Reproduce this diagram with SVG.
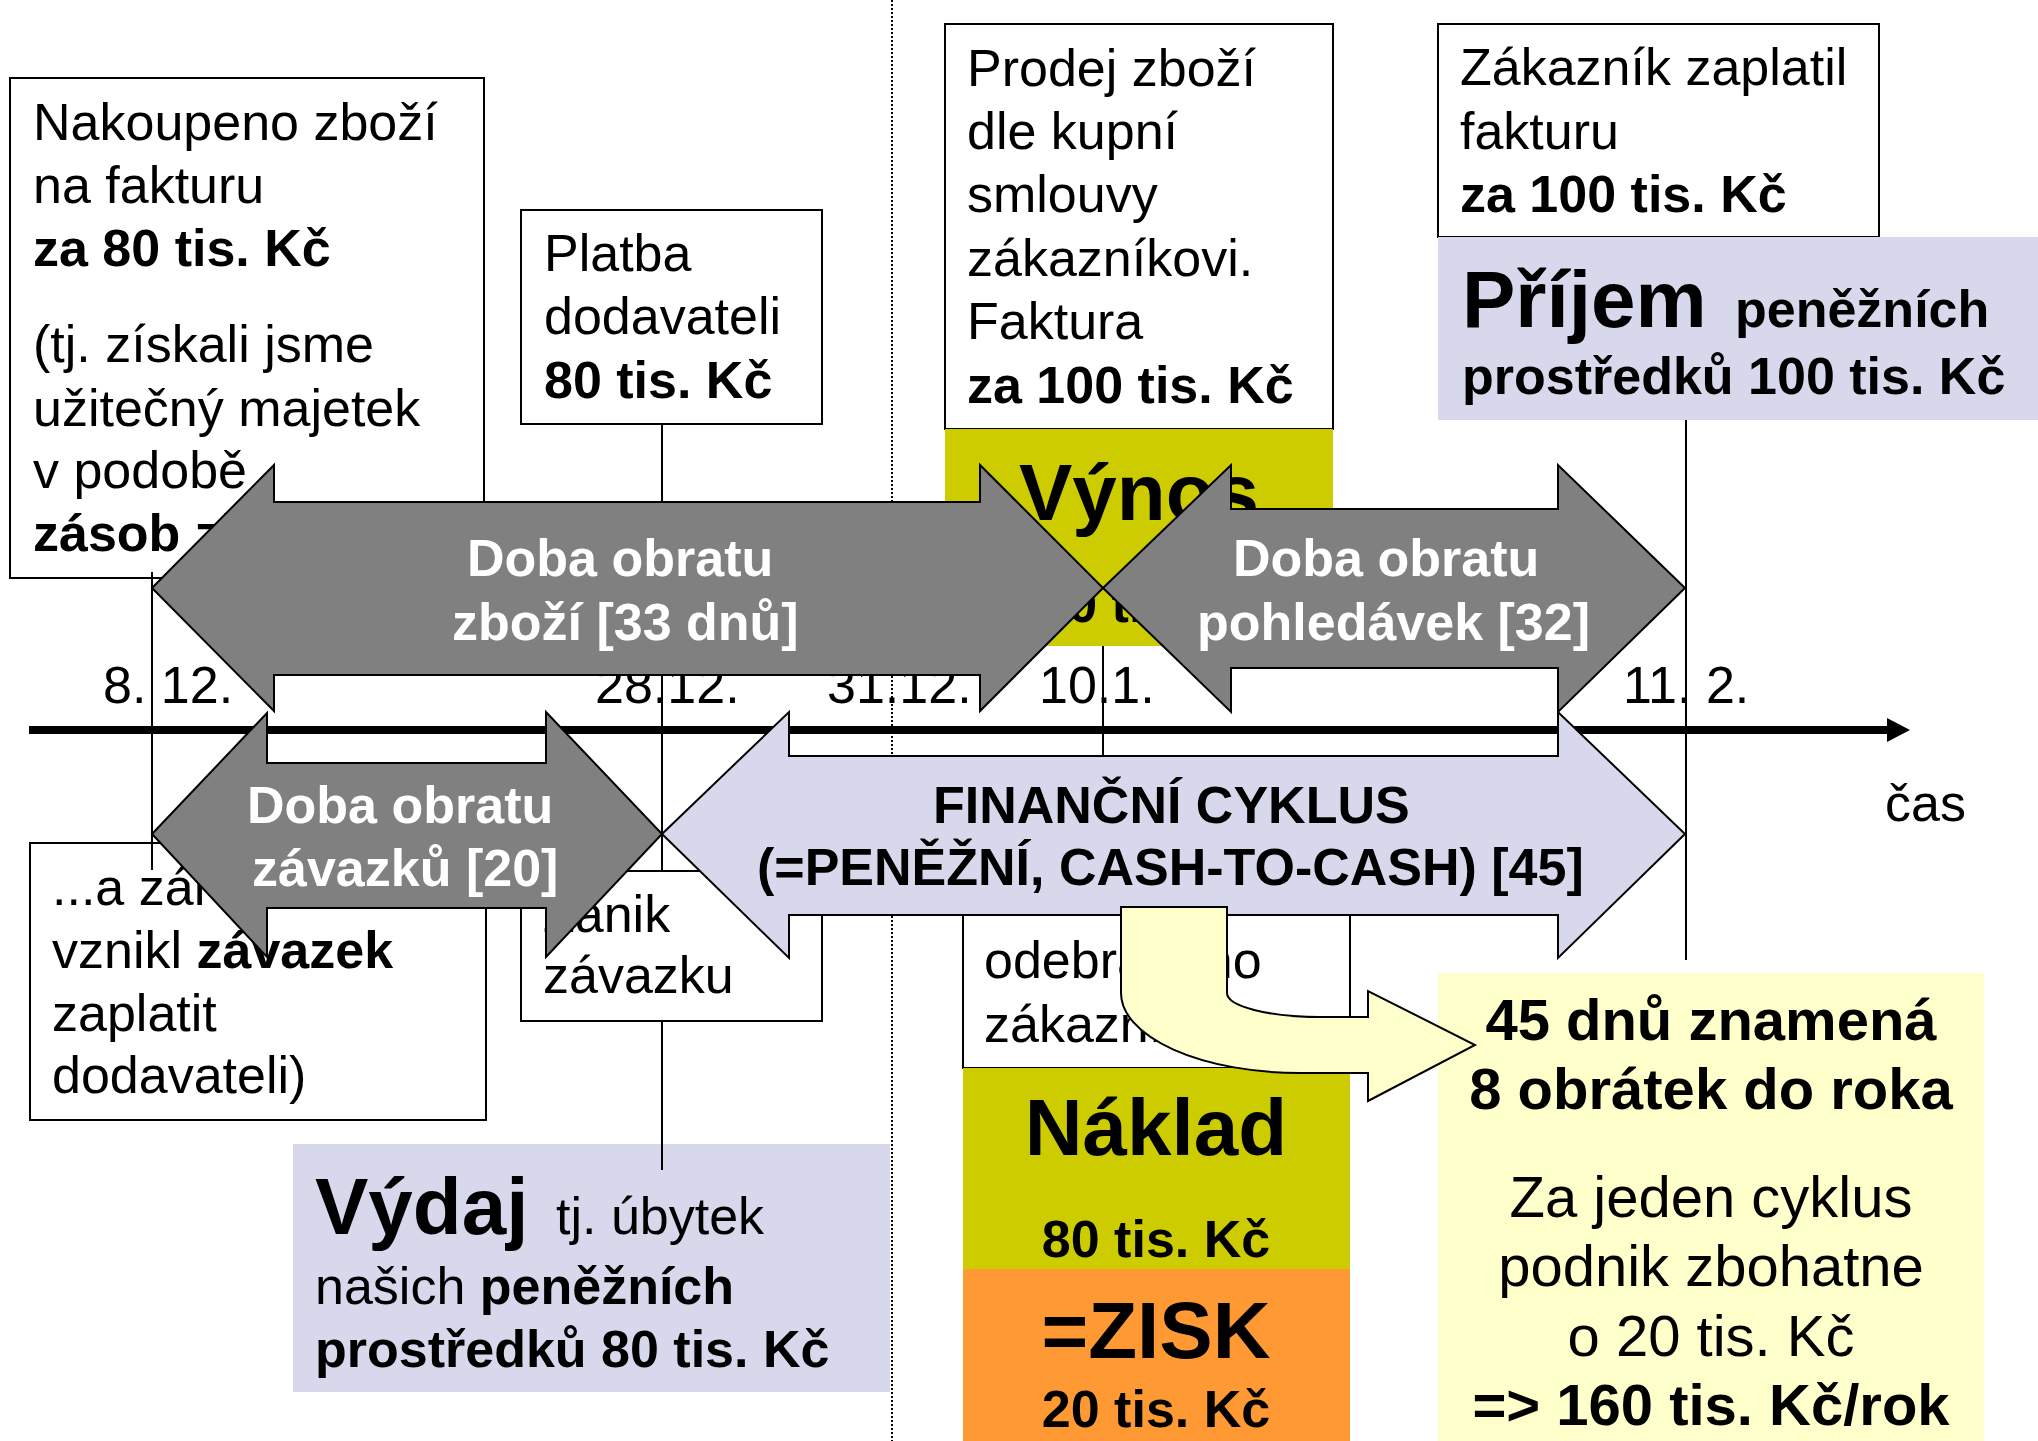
<svg xmlns="http://www.w3.org/2000/svg" width="2038" height="1441" viewBox="0 0 2038 1441">
<defs>
<style>
.box{fill:#fff;stroke:#000;stroke-width:2}
.yg{fill:#CCCC00}
.lav{fill:#D8D8EC}
.org{fill:#FF9933}
.ly{fill:#FFFFCC}
.t{font-family:"Liberation Sans",Arial,sans-serif;font-size:52px;fill:#000}
.b{font-weight:bold}
.big{font-size:80px;font-weight:bold}
.r58{font-size:58px}
.w{fill:#fff}
.c{text-anchor:middle}
.ag{fill:#808080;stroke:#000;stroke-width:2;stroke-linejoin:miter}
.al{fill:#D8D8EC;stroke:#000;stroke-width:2;stroke-linejoin:miter}
.ay{fill:#FFFFCC;stroke:#000;stroke-width:2}
.vl{stroke:#000;stroke-width:2;fill:none}
</style>
<marker id="tl-head" markerUnits="userSpaceOnUse" markerWidth="24" markerHeight="24" refX="0" refY="12" orient="auto">
<path d="M0,0 L23,12 L0,24 Z" fill="#000"/>
</marker>
</defs>
<rect width="2038" height="1441" fill="#fff"/>

<g id="divider">
<line x1="892" y1="0" x2="892" y2="1441" stroke="#000" stroke-width="2" stroke-dasharray="2 2"/>
</g>

<g id="box-nakoupeno">
<rect class="box" x="10" y="78" width="474" height="500"/>
<text class="t" x="33" y="140">Nakoupeno zboží</text>
<text class="t" x="33" y="203">na fakturu</text>
<text class="t b" x="33" y="266">za 80 tis. Kč</text>
<text class="t" x="33" y="362">(tj. získali jsme</text>
<text class="t" x="33" y="426">užitečný majetek</text>
<text class="t" x="33" y="488">v podobě</text>
<text class="t b" x="33" y="551">zásob zboží)</text>
</g>

<g id="box-platba">
<rect class="box" x="521" y="210" width="301" height="214"/>
<text class="t" x="544" y="271">Platba</text>
<text class="t" x="544" y="334">dodavateli</text>
<text class="t b" x="544" y="398">80 tis. Kč</text>
</g>

<g id="box-prodej">
<rect class="box" x="945" y="24" width="388" height="405"/>
<text class="t" x="967" y="86">Prodej zboží</text>
<text class="t" x="967" y="149">dle kupní</text>
<text class="t" x="967" y="212">smlouvy</text>
<text class="t" x="967" y="276">zákazníkovi.</text>
<text class="t" x="967" y="339">Faktura</text>
<text class="t b" x="967" y="403">za 100 tis. Kč</text>
</g>

<g id="box-vynos">
<rect class="yg" x="945" y="429" width="388" height="217"/>
<text class="t big c" x="1139" y="520">Výnos</text>
<text class="t b c" x="1139" y="622">100 tis. Kč</text>
</g>

<g id="box-zakaznik">
<rect class="box" x="1438" y="24" width="441" height="213"/>
<text class="t" x="1460" y="85">Zákazník zaplatil</text>
<text class="t" x="1460" y="149">fakturu</text>
<text class="t b" x="1460" y="212">za 100 tis. Kč</text>
</g>

<g id="box-prijem">
<rect class="lav" x="1438" y="237" width="600" height="183"/>
<text class="t big" x="1462" y="327">Příjem</text>
<text class="t b" x="1735" y="327">peněžních</text>
<text class="t b" x="1462" y="394">prostředků 100 tis. Kč</text>
</g>

<g id="box-zavazek">
<rect class="box" x="30" y="843" width="456" height="277"/>
<text class="t" x="52" y="905">...a zároveň</text>
<text class="t" x="52" y="968">vznikl <tspan class="b">závazek</tspan></text>
<text class="t" x="52" y="1031">zaplatit</text>
<text class="t" x="52" y="1093">dodavateli)</text>
</g>

<g id="box-zanik">
<rect class="box" x="521" y="871" width="301" height="150"/>
<text class="t" x="543" y="932">Zánik</text>
<text class="t" x="543" y="993">závazku</text>
</g>

<g id="box-vydaj">
<rect class="lav" x="293" y="1144" width="597" height="248"/>
<text class="t big" x="315" y="1234">Výdaj</text>
<text class="t" x="556" y="1234">tj. úbytek</text>
<text class="t" x="315" y="1304">našich <tspan class="b">peněžních</tspan></text>
<text class="t b" x="315" y="1367">prostředků 80 tis. Kč</text>
</g>

<g id="box-odebrano">
<rect class="box" x="963" y="860" width="387" height="208"/>
<text class="t" x="984" y="978">odebraného</text>
<text class="t" x="984" y="1042">zákazníkem</text>
</g>

<g id="box-naklad">
<rect class="yg" x="963" y="1068" width="387" height="201"/>
<text class="t big c" x="1156" y="1155">Náklad</text>
<text class="t b c" x="1156" y="1257">80 tis. Kč</text>
</g>

<g id="box-zisk">
<rect class="org" x="963" y="1269" width="387" height="172"/>
<text class="t big c" x="1156" y="1358">=ZISK</text>
<text class="t b c" x="1156" y="1427">20 tis. Kč</text>
</g>

<g id="box-vysledek">
<rect class="ly" x="1438" y="973" width="546" height="468"/>
<text class="t r58 b c" x="1711" y="1040">45 dnů znamená</text>
<text class="t r58 b c" x="1711" y="1109">8 obrátek do roka</text>
<text class="t r58 c" x="1711" y="1217">Za jeden cyklus</text>
<text class="t r58 c" x="1711" y="1286">podnik zbohatne</text>
<text class="t r58 c" x="1711" y="1356">o 20 tis. Kč</text>
<text class="t r58 b c" x="1711" y="1425">=&gt; 160 tis. Kč/rok</text>
</g>

<g id="connectors">
<line class="vl" x1="152" y1="572" x2="152" y2="870"/>
<line class="vl" x1="662" y1="424" x2="662" y2="871"/>
<line class="vl" x1="662" y1="1021" x2="662" y2="1170"/>
<line class="vl" x1="1103" y1="646" x2="1103" y2="756"/>
<line class="vl" x1="1686" y1="420" x2="1686" y2="960"/>
<line x1="29" y1="730" x2="1887" y2="730" stroke="#000" stroke-width="8" marker-end="url(#tl-head)"/>
</g>

<g id="timeline-labels">
<text class="t" x="103" y="703">8. 12.</text>
<text class="t" x="595" y="703">28.12.</text>
<text class="t" x="827" y="703">31.12.</text>
<text class="t" x="1039" y="703">10.1.</text>
<text class="t" x="1623" y="703">11. 2.</text>
<text class="t" x="1885" y="821">čas</text>
</g>

<g id="arrow-zbozi">
<polygon class="ag" points="152,588 274,465 274,502 980,502 980,465 1103,588 980,711 980,675 274,675 274,711"/>
<text class="t b w" x="467" y="576">Doba obratu</text>
<text class="t b w" x="452" y="640">zboží [33 dnů]</text>
</g>

<g id="arrow-pohledavky">
<polygon class="ag" points="1103,588 1231,465 1231,509 1558,509 1558,465 1685,588 1558,712 1558,668 1231,668 1231,712"/>
<text class="t b w" x="1233" y="576">Doba obratu</text>
<text class="t b w" x="1197" y="640">pohledávek [32]</text>
</g>

<g id="arrow-zavazky">
<polygon class="ag" points="152,834 267,713 267,763 546,763 546,712 662,834 546,957 546,908 267,908 267,957"/>
<text class="t b w" x="247" y="823">Doba obratu</text>
<text class="t b w" x="252" y="886">závazků [20]</text>
</g>

<g id="arrow-financni-cyklus">
<polygon class="al" points="662,834 789,712 789,756 1558,756 1558,712 1685,834 1558,958 1558,915 789,915 789,958"/>
<text class="t b" x="933" y="823">FINANČNÍ CYKLUS</text>
<text class="t b" x="757" y="885">(=PENĚŽNÍ, CASH-TO-CASH) [45]</text>
</g>

<g id="arrow-zaver">
<path class="ay" d="M1121,907 L1227,907 L1227,993 A93,24 0 0 0 1320,1017 L1368,1017 L1368,991 L1475,1045 L1368,1101 L1368,1073 L1300,1073 A179,80 0 0 1 1121,993 Z"/>
</g>
</svg>
